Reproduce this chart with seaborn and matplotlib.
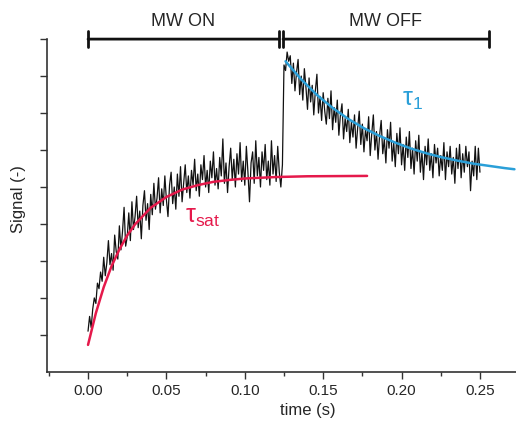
import numpy as np
import pandas as pd
import matplotlib
matplotlib.use("Agg")
import matplotlib.pyplot as plt
import seaborn as sns

# --- data (signal in arbitrary units, 1 unit = 1 y tick) ---
sample_step = 0.001

rise_signal = [
    1.10, 1.50, 1.20, 1.70, 2.00, 1.85, 2.40, 2.25, 2.70, 2.45,
    3.10, 2.60, 2.95, 3.55, 2.90, 3.20, 2.75, 3.70, 3.25, 3.05,
    3.95, 3.30, 3.80, 4.45, 3.40, 3.65, 4.30, 3.55, 4.60, 3.85,
    4.20, 4.75, 3.90, 4.35, 3.60, 4.50, 4.90, 4.10, 4.55, 3.85,
    4.80, 4.25, 5.10, 4.40, 4.70, 5.25, 4.30, 4.95, 4.50, 5.30,
    4.65, 4.20, 5.05, 5.40, 4.55, 5.00, 4.40, 5.35, 4.75, 5.55,
    4.60, 5.10, 5.60, 4.85, 5.30, 4.70, 5.45, 5.05, 5.75, 4.90,
    5.35, 4.75, 5.60, 5.20, 5.85, 5.00, 5.45, 4.85, 5.70, 5.25,
    5.95, 5.05, 5.50, 4.95, 5.80, 5.30, 6.30, 5.10, 5.65, 4.85,
    5.55, 6.05, 5.20, 5.75, 5.00, 5.90, 5.35, 6.20, 5.15, 5.70,
    5.05, 6.10, 5.40, 4.60, 5.65, 5.95, 5.10, 6.25, 5.30, 5.80,
    5.00, 5.95, 5.45, 6.15, 5.20, 5.70, 5.05, 6.25, 5.35, 5.85,
    5.15, 6.10, 5.40, 5.00, 5.60,
]

decay_signal = [
    8.30, 8.15, 8.65, 8.40, 8.55, 7.80, 8.35, 7.60, 8.10, 8.45,
    7.50, 8.00, 7.35, 8.20, 7.70, 7.10, 7.95, 7.30, 7.75, 6.95,
    7.60, 8.05, 7.00, 7.45, 6.80, 7.55, 7.05, 6.70, 7.40, 6.85,
    7.60, 6.55, 7.15, 6.75, 7.35, 6.40, 6.95, 7.25, 6.30, 6.85,
    6.50, 7.10, 6.20, 6.75, 6.35, 6.95, 6.05, 6.60, 7.05, 6.15,
    6.70, 5.95, 6.55, 6.25, 6.90, 5.85, 6.45, 6.95, 6.00, 6.50,
    5.75, 6.40, 6.80, 5.90, 6.30, 5.65, 6.55, 6.05, 6.75, 5.70,
    6.20, 5.55, 6.45, 5.90, 6.60, 5.60, 6.15, 5.45, 6.35, 5.80,
    6.50, 5.50, 6.05, 5.35, 6.25, 5.70, 6.40, 5.40, 5.95, 5.20,
    6.10, 5.60, 6.30, 5.45, 5.90, 5.25, 6.15, 5.65, 6.05, 5.30,
    5.85, 5.45, 6.20, 5.20, 5.95, 5.55, 6.10, 5.35, 5.80, 5.10,
    6.05, 5.50, 6.15, 5.25, 5.90, 5.40, 6.10, 5.55, 5.95, 4.90,
    5.70, 5.30, 6.10, 5.20, 6.05, 5.40,
]
decay_start = 0.125

# fitted curves
sat_fit_time = [0.000, 0.005, 0.010, 0.015, 0.020, 0.025, 0.030, 0.040, 0.050,
                0.060, 0.070, 0.080, 0.090, 0.100, 0.120, 0.140, 0.178]
sat_fit_value = [0.73, 1.59, 2.29, 2.86, 3.31, 3.69, 3.99, 4.44, 4.73,
                 4.93, 5.05, 5.14, 5.19, 5.23, 5.27, 5.29, 5.30]

t1_fit_time = [0.126, 0.136, 0.146, 0.156, 0.166, 0.176, 0.186, 0.196,
               0.206, 0.216, 0.226, 0.236, 0.246, 0.256, 0.266, 0.272]
t1_fit_value = [8.40, 7.91, 7.49, 7.14, 6.84, 6.59, 6.38, 6.20,
                6.04, 5.91, 5.80, 5.71, 5.63, 5.57, 5.51, 5.48]

phase_labels = ["MW ON", "MW OFF"]
phase_start = [0.0, 0.1244]
phase_end = [0.1218, 0.2557]

red = "#e5194b"
blue = "#2a9fd8"

# --- assemble ---
rise_time = np.round(np.arange(len(rise_signal)) * sample_step, 4)
decay_time = np.round(decay_start + np.arange(len(decay_signal)) * sample_step, 4)
trace = pd.DataFrame({
    "time": np.concatenate([rise_time, decay_time]),
    "signal": rise_signal + decay_signal,
})
sat_fit = pd.DataFrame({"time": sat_fit_time, "signal": sat_fit_value})
t1_fit = pd.DataFrame({"time": t1_fit_time, "signal": t1_fit_value})

sns.set_theme(style="ticks")
plt.rcParams["font.family"] = ["Liberation Sans", "DejaVu Sans"]

fig = plt.figure(figsize=(5.16, 4.25), dpi=100)
ax = fig.add_axes([0.091, 0.125, 0.909, 0.783])

sns.lineplot(data=trace, x="time", y="signal", color="#111111", lw=0.9, ax=ax)
sns.lineplot(data=sat_fit, x="time", y="signal", color=red, lw=1.8, ax=ax)
sns.lineplot(data=t1_fit, x="time", y="signal", color=blue, lw=1.8, ax=ax)

ax.set_xlim(-0.0262, 0.273)
ax.set_ylim(0, 9)
ax.set_xticks([0.0, 0.05, 0.10, 0.15, 0.20, 0.25])
ax.set_xticklabels(["0.00", "0.05", "0.10", "0.15", "0.20", "0.25"], fontsize=11)
ax.set_xticks([-0.025, 0.025, 0.075, 0.125, 0.175, 0.225], minor=True)
ax.set_yticks(range(1, 10))
ax.set_yticklabels([])
ax.tick_params(axis="both", which="major", length=5, width=1, color="#333333")
ax.tick_params(axis="x", which="minor", length=3, width=1, color="#333333")
for side in ["top", "right"]:
    ax.spines[side].set_visible(False)
for side in ["left", "bottom"]:
    ax.spines[side].set_linewidth(1.2)
    ax.spines[side].set_color("#333333")

ax.set_xlabel("time (s)", fontsize=12)
ax.xaxis.set_label_coords(0.556, -0.093)
ax.set_ylabel("Signal (-)", fontsize=12)
ax.yaxis.set_label_coords(-0.045, 0.52)

ax.text(0.073, 4.2, r"$\mathregular{\tau_{sat}}$", color=red, fontsize=18,
        ha="center", va="center")
ax.text(0.207, 7.35, r"$\mathregular{\tau_{1}}$", color=blue, fontsize=18,
        ha="center", va="center")

# phase brackets above the plot
for label, start, end in zip(phase_labels, phase_start, phase_end):
    ax.annotate("", xy=(start, 1.0), xytext=(end, 1.0),
                xycoords=("data", "axes fraction"),
                textcoords=("data", "axes fraction"),
                arrowprops=dict(arrowstyle="|-|, widthA=0.5, widthB=0.5",
                                lw=2, color="#111111", shrinkA=0, shrinkB=0),
                annotation_clip=False)
    ax.text((start + end) / 2, 1.052, label, transform=ax.get_xaxis_transform(),
            ha="center", va="center", fontsize=13)

fig.savefig("out.png", dpi=100)
